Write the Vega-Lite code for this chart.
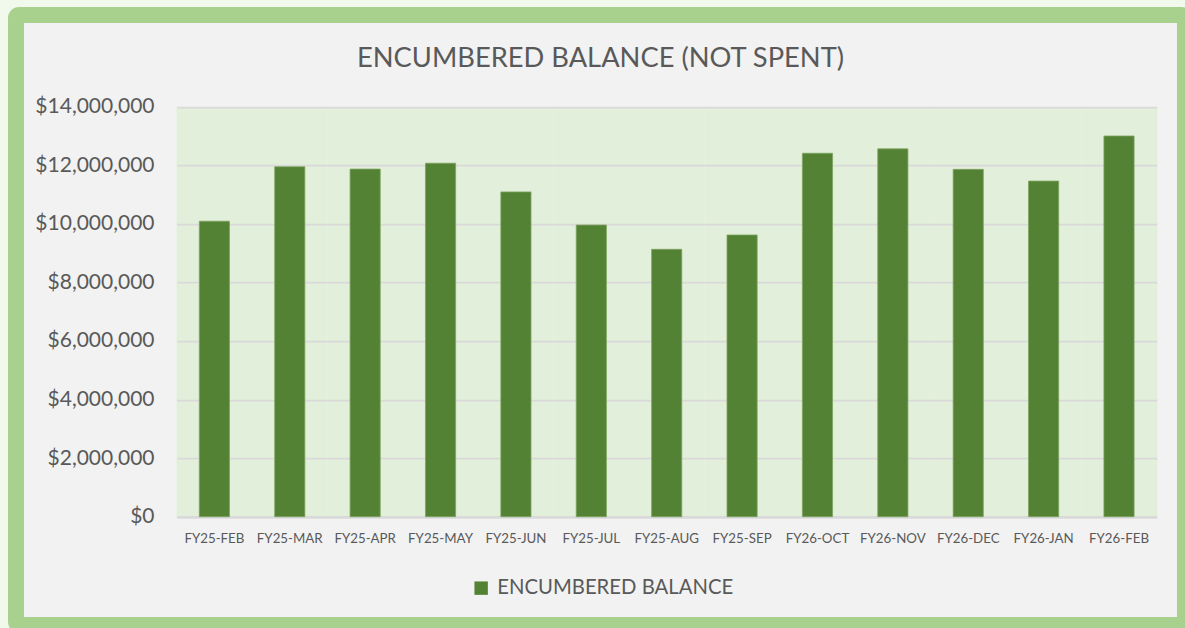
{
  "$schema": "https://vega.github.io/schema/vega-lite/v6.json",
  "width": 1169,
  "height": 610,
  "autosize": {"type": "none"},
  "padding": {"left": 16, "top": 15, "right": 0, "bottom": 3},
  "background": "#f1f9ec",
  "title": {
    "text": "ENCUMBERED BALANCE (NOT SPENT)",
    "anchor": "middle",
    "frame": "group",
    "baseline": "alphabetic",
    "offset": -79,
    "font": "Lato",
    "fontSize": 27.3,
    "fontWeight": "normal",
    "color": "#595959"
  },
  "config": {
    "font": "Lato",
    "view": {"fill": "#f2f2f2", "stroke": "#a9d18e", "strokeWidth": 16, "cornerRadius": 3}
  },
  "data": {
    "values": [
      {"month": "FY25-FEB", "balance": 10090000, "series": "ENCUMBERED BALANCE"},
      {"month": "FY25-MAR", "balance": 11950000, "series": "ENCUMBERED BALANCE"},
      {"month": "FY25-APR", "balance": 11870000, "series": "ENCUMBERED BALANCE"},
      {"month": "FY25-MAY", "balance": 12070000, "series": "ENCUMBERED BALANCE"},
      {"month": "FY25-JUN", "balance": 11090000, "series": "ENCUMBERED BALANCE"},
      {"month": "FY25-JUL", "balance": 9960000, "series": "ENCUMBERED BALANCE"},
      {"month": "FY25-AUG", "balance": 9130000, "series": "ENCUMBERED BALANCE"},
      {"month": "FY25-SEP", "balance": 9620000, "series": "ENCUMBERED BALANCE"},
      {"month": "FY26-OCT", "balance": 12410000, "series": "ENCUMBERED BALANCE"},
      {"month": "FY26-NOV", "balance": 12560000, "series": "ENCUMBERED BALANCE"},
      {"month": "FY26-DEC", "balance": 11860000, "series": "ENCUMBERED BALANCE"},
      {"month": "FY26-JAN", "balance": 11460000, "series": "ENCUMBERED BALANCE"},
      {"month": "FY26-FEB", "balance": 13000000, "series": "ENCUMBERED BALANCE"}
    ]
  },
  "mark": {"type": "bar", "stroke": "#7da35f", "strokeWidth": 0.8},
  "encoding": {
    "x": {
      "field": "month",
      "type": "nominal",
      "sort": null,
      "scale": {"range": [160.7, 1140.7], "paddingInner": 0.6, "paddingOuter": 0.3},
      "axis": {
        "title": null,
        "orient": "top",
        "offset": -501.7,
        "labelAngle": 0,
        "labelFontSize": 13.3,
        "labelColor": "#595959",
        "labelBaseline": "alphabetic",
        "labelPadding": -26,
        "ticks": false,
        "tickSize": 0,
        "domain": true,
        "domainColor": "#d9d9d9",
        "domainWidth": 2.5,
        "grid": true,
        "bandPosition": 0.5,
        "gridColor": "#e2efda",
        "gridWidth": 76,
        "gridOpacity": 1
      }
    },
    "y": {
      "field": "balance",
      "type": "quantitative",
      "scale": {"domain": [0, 14000000], "range": [501.7, 91.7], "nice": false, "zero": true},
      "axis": {
        "title": null,
        "offset": -160.7,
        "values": [0, 2000000, 4000000, 6000000, 8000000, 10000000, 12000000, 14000000],
        "format": "$,.0f",
        "labelFontSize": 21,
        "labelColor": "#595959",
        "labelPadding": 22.7,
        "ticks": false,
        "tickSize": 0,
        "domain": false,
        "grid": true,
        "gridColor": "#d9d9d9",
        "gridWidth": 1.75
      }
    },
    "color": {
      "field": "series",
      "type": "nominal",
      "scale": {"range": ["#548235"]},
      "legend": {
        "title": null,
        "orient": "none",
        "legendX": 455,
        "legendY": 563,
        "direction": "horizontal",
        "padding": 0,
        "symbolType": "square",
        "symbolSize": 180,
        "symbolStrokeWidth": 0,
        "labelFontSize": 20.3,
        "labelColor": "#595959",
        "labelOffset": 6,
        "labelLimit": 400
      }
    }
  }
}
